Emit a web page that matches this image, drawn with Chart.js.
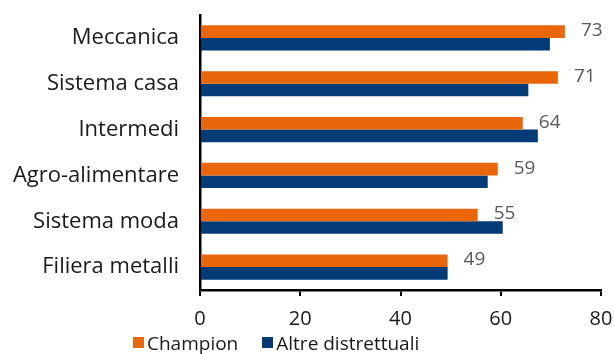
<!DOCTYPE html>
<html>
<head>
<meta charset="utf-8">
<script src="https://cdn.jsdelivr.net/npm/chart.js@4"></script>
<style>
  body { margin: 0; background: #fff; }
  #wrap { position: relative; width: 614px; height: 354px; }
  #legend { position: absolute; left: 133px; top: 328px; font-family: 'Open Sans', sans-serif; font-size: 19px; color: #1a1a1a; white-space: nowrap; }
  #legend span.item { display: inline-flex; align-items: center; margin-right: 24px; }
  #legend span.box { display: inline-block; width: 11px; height: 11px; margin-right: 3px; }
</style>
</head>
<body>
<div id="wrap">
  <canvas id="chart" width="614" height="354"></canvas>
  <div id="legend"></div>
</div>
<script>
// Categories and series
const categories = ['Meccanica', 'Sistema casa', 'Intermedi', 'Agro-alimentare', 'Sistema moda', 'Filiera metalli'];
const champion = [72.8, 71.4, 64.4, 59.4, 55.4, 49.4];
const altre = [69.8, 65.5, 67.4, 57.4, 60.4, 49.4];
const xTicks = [0, 20, 40, 60, 80];

const ORANGE = '#E9660A';
const BLUE = '#033B77';
const FONT = "'Open Sans', sans-serif";

// Draw the value labels next to the Champion bars
const valueLabels = {
    id: 'valueLabels',
    afterDatasetsDraw(chart) {
        const ctx = chart.ctx;
        const meta = chart.getDatasetMeta(0);
        ctx.save();
        ctx.font = '19px ' + FONT;
        ctx.fillStyle = '#595959';
        ctx.textAlign = 'left';
        ctx.textBaseline = 'middle';
        meta.data.forEach((bar, i) => {
            ctx.fillText(Math.round(champion[i]), bar.x + 16, bar.y - 1);
        });
        ctx.restore();
    }
};

const ctx = document.getElementById('chart').getContext('2d');
const chart = new Chart(ctx, {
    type: 'bar',
    data: {
        labels: categories,
        datasets: [
            { label: 'Champion', data: champion, backgroundColor: ORANGE },
            { label: 'Altre distrettuali', data: altre, backgroundColor: BLUE }
        ]
    },
    options: {
        indexAxis: 'y',
        responsive: false,
        animation: false,
        categoryPercentage: 0.55,
        barPercentage: 1,
        layout: { padding: { top: 15, right: 13, bottom: 24, left: 0 } },
        plugins: {
            legend: { display: false },
            tooltip: { enabled: false }
        },
        scales: {
            x: {
                min: 0,
                max: 80,
                afterBuildTicks: (scale) => { scale.ticks = xTicks.map(v => ({ value: v })); },
                afterFit: (scale) => { scale.height = 40; scale.paddingLeft = 0; scale.paddingRight = 0; },
                grid: { display: true, drawOnChartArea: false, drawTicks: true, tickLength: 6, color: '#000', lineWidth: 2 },
                border: { display: true, color: '#000', width: 2.5 },
                ticks: { color: '#1a1a1a', font: { family: FONT, size: 20 }, padding: 11, maxRotation: 0 }
            },
            y: {
                afterFit: (scale) => { scale.width = 200; scale.paddingTop = 0; scale.paddingBottom = 0; },
                grid: { display: false },
                border: { display: true, color: '#000', width: 2.5 },
                ticks: { color: '#1a1a1a', font: { family: FONT, size: 22 }, padding: 13 }
            }
        }
    },
    plugins: [valueLabels]
});

// Legend built from the chart's datasets
const legend = document.getElementById('legend');
chart.data.datasets.forEach(ds => {
    const item = document.createElement('span');
    item.className = 'item';
    const box = document.createElement('span');
    box.className = 'box';
    box.style.background = ds.backgroundColor;
    item.appendChild(box);
    item.appendChild(document.createTextNode(ds.label));
    legend.appendChild(item);
});
</script>
</body>
</html>
